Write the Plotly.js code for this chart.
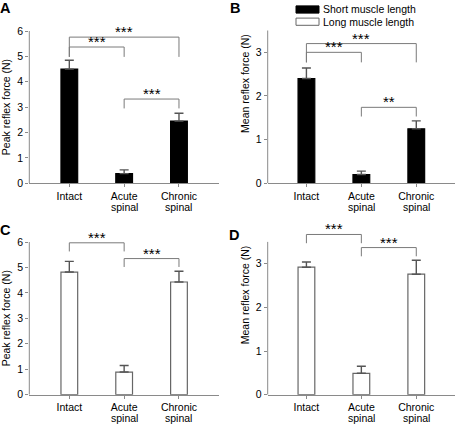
<!DOCTYPE html>
<html>
<head>
<meta charset="utf-8">
<script src="https://cdn.plot.ly/plotly-3.0.1.min.js"></script>
<style>html,body{margin:0;padding:0;background:#fff;}#chart{width:459px;height:424px;}</style>
</head>
<body>
<div id="chart"></div>
<script>
// ---- data ----
const categories = ['Intact', 'Acute spinal', 'Chronic spinal'];
// Short muscle length (filled bars)
const peakShort = [4.50, 0.38, 2.45];
const peakShortErr = [0.35, 0.15, 0.31];
const meanShort = [2.40, 0.20, 1.25];
const meanShortErr = [0.24, 0.08, 0.18];
// Long muscle length (open bars)
const peakLong = [4.82, 0.89, 4.43];
const peakLongErr = [0.42, 0.26, 0.42];
const meanLong = [2.92, 0.49, 2.76];
const meanLongErr = [0.12, 0.16, 0.32];
const peakTicks = [0, 1, 2, 3, 4, 5, 6];
const meanTicks = [0, 1, 2, 3];
const legendLabels = ['Short muscle length', 'Long muscle length'];
// significance comparisons: [from, to, label, bracket level, end level]
const sigA = [[0, 2, '***', 5.76, 4.98], [0, 1, '***', 5.37, 4.98], [1, 2, '***', 3.32, 2.95]];
const sigB = [[0, 2, '***', 3.20, 2.77], [0, 1, '***', 3.00, 2.77], [1, 2, '**', 1.74, 1.53]];
const sigC = [[0, 1, '***', 5.97, 5.63], [1, 2, '***', 5.35, 5.02]];
const sigD = [[0, 1, '***', 3.67, 3.47], [1, 2, '***', 3.37, 3.17]];

// ---- style ----
const W = 459, H = 424;
const FONT = 'Liberation Sans, Arial, Helvetica, sans-serif';
const AXC = '#8a8a8a';
const px = x => x / W;
const py = y => 1 - y / H;
const xIdx = categories.map((_, i) => i);
const firstLine = categories.map(c => c.split(' ')[0]);
const secondLine = categories.map(c => c.split(' ').slice(1).join(' '));
const TOP_BASE = 183.3, BOT_BASE = 394.7;

function barTrace(vals, errs, xa, ya, filled) {
  return {
    type: 'bar', x: xIdx, y: vals, xaxis: xa, yaxis: ya, width: 0.305,
    marker: { color: filled ? '#000' : '#fff', line: { color: filled ? '#000' : '#666', width: 1.2 } },
    error_y: { type: 'data', symmetric: false, array: errs, arrayminus: errs.map(() => 0),
               color: '#555', thickness: 1.4, width: 4.5 },
    showlegend: false, hoverinfo: 'skip'
  };
}

const data = [
  barTrace(peakShort, peakShortErr, 'x', 'y', true),
  barTrace(meanShort, meanShortErr, 'x2', 'y2', true),
  barTrace(peakLong, peakLongErr, 'x3', 'y3', false),
  barTrace(meanLong, meanLongErr, 'x4', 'y4', false)
];

function xAxis(domain, anchor, range) {
  return { domain: domain, anchor: anchor, range: range, tickvals: xIdx, ticktext: firstLine,
    showline: true, linecolor: AXC, linewidth: 1, ticks: 'outside', ticklen: 3, tickcolor: AXC,
    showgrid: false, zeroline: false, fixedrange: true,
    tickfont: { family: FONT, size: 10.5, color: '#000' } };
}
function yAxis(domain, anchor, range, ticks) {
  return { domain: domain, anchor: anchor, range: range, tickvals: ticks,
    showline: false, ticks: 'outside', ticklen: 3, tickcolor: AXC,
    showgrid: false, zeroline: false, fixedrange: true,
    tickfont: { family: FONT, size: 10.5, color: '#000' } };
}

const layout = {
  width: W, height: H, margin: { l: 0, r: 0, t: 0, b: 0 },
  paper_bgcolor: '#fff', plot_bgcolor: 'rgba(0,0,0,0)', showlegend: false,
  xaxis: xAxis([px(29.3), px(219)], 'y', [-0.73, 2.73]),
  yaxis: yAxis([py(TOP_BASE), py(23.4)], 'x', [0, 6.3], peakTicks),
  xaxis2: xAxis([px(267.7), px(455)], 'y2', [-0.705, 2.705]),
  yaxis2: yAxis([py(TOP_BASE), py(17.4)], 'x2', [0, 3.8], meanTicks),
  xaxis3: xAxis([px(29.3), px(219)], 'y3', [-0.73, 2.73]),
  yaxis3: yAxis([py(BOT_BASE), py(234.4)], 'x3', [0, 6.3], peakTicks),
  xaxis4: xAxis([px(267.7), px(455)], 'y4', [-0.705, 2.705]),
  yaxis4: yAxis([py(BOT_BASE), py(228.8)], 'x4', [0, 3.8], meanTicks),
  shapes: [], annotations: []
};

// second line of category labels (tighter line spacing than Plotly's default)
[['x', TOP_BASE], ['x2', TOP_BASE], ['x3', BOT_BASE], ['x4', BOT_BASE]].forEach(([xa, base]) => {
  secondLine.forEach((t, i) => {
    if (!t) return;
    layout.annotations.push({ xref: xa, yref: 'paper', x: i, y: py(base + 23.5), text: t, showarrow: false,
      xanchor: 'center', yanchor: 'middle', font: { family: FONT, size: 10.5, color: '#000' } });
  });
});

// y axis lines (only up to the last tick / 3.5)
[['x', 'y', 6], ['x2', 'y2', 3.5], ['x3', 'y3', 6], ['x4', 'y4', 3.5]].forEach(([xa, ya, top]) => {
  layout.shapes.push({ type: 'line', xref: xa + ' domain', yref: ya, x0: 0, x1: 0, y0: 0, y1: top,
    line: { color: AXC, width: 1 } });
});

// significance brackets
function addSig(list, xa, ya) {
  list.forEach(([a, b, lab, lvl, end]) => {
    const ln = { color: '#7a7a7a', width: 1 };
    layout.shapes.push({ type: 'line', xref: xa, yref: ya, x0: a, x1: b, y0: lvl, y1: lvl, line: ln });
    layout.shapes.push({ type: 'line', xref: xa, yref: ya, x0: a, x1: a, y0: lvl, y1: end, line: ln });
    layout.shapes.push({ type: 'line', xref: xa, yref: ya, x0: b, x1: b, y0: lvl, y1: end, line: ln });
    layout.annotations.push({ xref: xa, yref: ya, x: (a + b) / 2, y: lvl, text: lab, showarrow: false,
      xanchor: 'center', yanchor: 'bottom', yshift: -5, font: { family: FONT, size: 15, color: '#000' } });
  });
}
addSig(sigA, 'x', 'y'); addSig(sigB, 'x2', 'y2'); addSig(sigC, 'x3', 'y3'); addSig(sigD, 'x4', 'y4');

// y-axis titles
[['Peak reflex force (N)', 6, 'y', 3.0], ['Mean reflex force (N)', 245, 'y2', 2.3],
 ['Peak reflex force (N)', 6, 'y3', 3.0], ['Mean reflex force (N)', 245, 'y4', 2.3]].forEach(([t, x, ya, yv]) => {
  layout.annotations.push({ xref: 'paper', yref: ya, x: px(x), y: yv, text: t, textangle: -90,
    showarrow: false, xanchor: 'center', yanchor: 'middle', font: { family: FONT, size: 10.5, color: '#000' } });
});

// panel letters
[['A', 5, 8], ['B', 234.5, 8.5], ['C', 5, 230], ['D', 234, 235]].forEach(([t, x, y]) => {
  layout.annotations.push({ xref: 'paper', yref: 'paper', x: px(x), y: py(y), text: '<b>' + t + '</b>',
    showarrow: false, xanchor: 'center', yanchor: 'middle', font: { family: FONT, size: 14.5, color: '#000' } });
});

// legend
[[legendLabels[0], 9.5, '#000', '#000'], [legendLabels[1], 21.7, '#fff', '#666']].forEach(([t, yc, fill, lc]) => {
  layout.shapes.push({ type: 'rect', xref: 'paper', yref: 'paper', x0: px(296), x1: px(319),
    y0: py(yc - 3.6), y1: py(yc + 3.6), fillcolor: fill, line: { color: lc, width: 1 } });
  layout.annotations.push({ xref: 'paper', yref: 'paper', x: px(321), y: py(yc), text: t, showarrow: false,
    xanchor: 'left', yanchor: 'middle', font: { family: FONT, size: 10.5, color: '#000' } });
});

Plotly.newPlot('chart', data, layout, { displayModeBar: false, staticPlot: true });
</script>
</body>
</html>
